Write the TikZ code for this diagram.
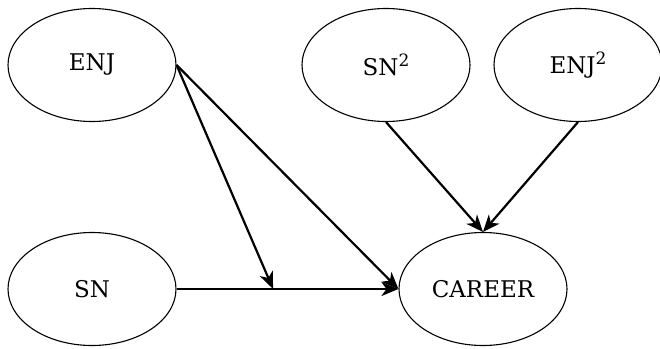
\documentclass[tikz,border=0pt]{standalone}
\usepackage{fontspec}
\setmainfont{DejaVu Serif}
\usetikzlibrary{shapes.geometric,arrows.meta,calc}
\newcommand{\sqsup}{\raisebox{8.5pt}{\fontsize{17}{19}\selectfont 2}}
\begin{document}
\begin{tikzpicture}[x=1pt,y=-1pt,
  var/.style={draw,ellipse,line width=1.1pt,minimum width=168pt,minimum height=113pt,inner sep=0pt,font=\fontsize{23}{27}\selectfont},
  conn/.style={line width=2.2pt,-{Stealth[length=17pt,width=14pt,inset=5pt]}}]
\useasboundingbox (0,0) rectangle (660,348);
\node[var] (ENJ) at (92,65) {ENJ};
\node[var] (SN2) at (386,65) {SN\sqsup};
\node[var] (ENJ2) at (578,65) {ENJ\sqsup};
\node[var] (SN) at (92,289) {SN};
\node[var] (CAREER) at (483,289) {CAREER};
\coordinate (m) at ($(SN.east)!0.435!(CAREER.west)$);
\draw[conn] (SN.east) -- (CAREER.west);
\draw[conn] (ENJ.east) -- (m);
\draw[conn] (ENJ.east) -- (CAREER.west);
\draw[conn] (SN2.south) -- (CAREER.north);
\draw[conn] (ENJ2.south) -- (CAREER.north);
\end{tikzpicture}
\end{document}
